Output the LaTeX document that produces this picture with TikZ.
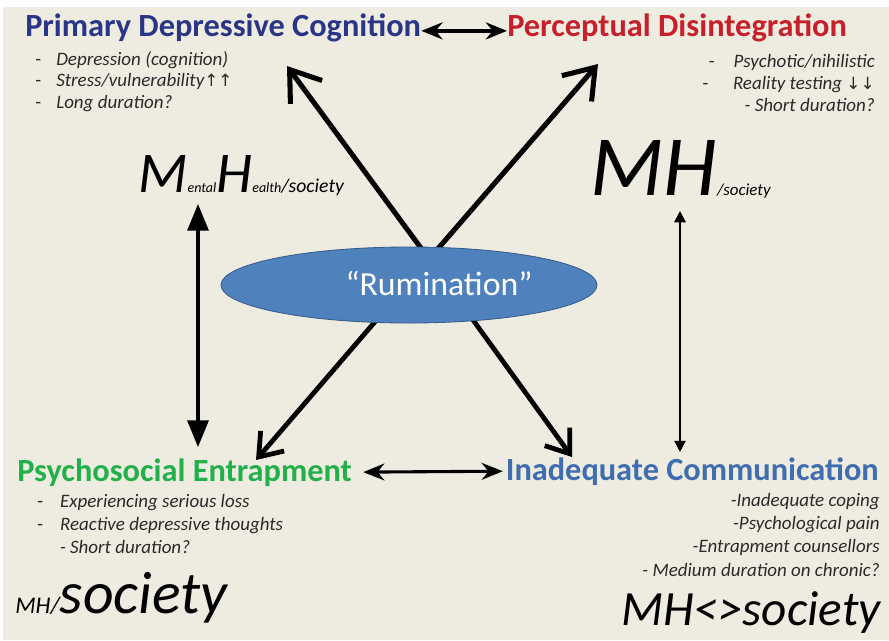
\documentclass[tikz,border=0pt]{standalone}
\usepackage{fontspec}
\setmainfont{Carlito}
\newfontfamily\arrowfont{DejaVu Sans}
\usetikzlibrary{arrows.meta,positioning,shapes.geometric}

\definecolor{paper}{HTML}{EEECE1}
\definecolor{pdcblue}{HTML}{2B3588}
\definecolor{pdred}{HTML}{C8202A}
\definecolor{pegreen}{HTML}{22B04B}
\definecolor{icblue}{HTML}{3F6DB0}
\definecolor{rumfill}{HTML}{4F81BD}
\definecolor{rumline}{HTML}{385D8A}
\definecolor{notegray}{HTML}{2A2A2A}

\begin{document}
\begin{tikzpicture}[x=0.025cm,y=-0.025cm,
  title/.style={font=\fontsize{23}{27}\selectfont\bfseries, inner sep=0pt},
  notes/.style={font=\fontsize{13.5}{15.5}\selectfont\itshape, text=notegray, inner sep=0pt},
  mhlabel/.style={font=\itshape, inner sep=0pt},
  bigarrow/.style={line width=3.6pt, -{Straight Barb[length=20pt,width=28pt]}},
  smallarrow/.style={line width=3.4pt, -{Straight Barb[length=15pt,width=22pt]}},
  pairarrow/.style={line width=2.8pt, {Stealth[length=15pt,width=12pt]}-{Stealth[length=15pt,width=12pt]}},
  sidearrow/.style={line width=2.2pt, {Triangle[length=19pt,width=15pt]}-{Triangle[length=19pt,width=15pt]}},
  thinarrow/.style={line width=1.4pt, {Triangle[length=8pt,width=8pt]}-{Triangle[length=8pt,width=8pt]}},
  rumination/.style={ellipse, fill=rumfill, draw=rumline, line width=0.6pt,
    minimum width=9.4cm, minimum height=1.9cm, inner sep=0pt}
]
\useasboundingbox (0,0) rectangle (889,640);
\fill[paper] (3,7) rectangle (889,640);

% the four corners
\node[title, text=pdcblue, anchor=base west] (pdc) at (25,36) {Primary Depressive Cognition};
\node[title, text=pdred, anchor=base west] (pd) at (507,36) {Perceptual Disintegration};
\node[title, text=pegreen, anchor=base west] (pe) at (17,481) {Psychosocial Entrapment};
\node[title, text=icblue, anchor=base east] (ic) at (879,480) {Inadequate Communication};

\node[notes, anchor=north west, align=left] (pdcnotes) at (35,51)
  {{\upshape -}\hspace{0.8em}Depression (cognition)\\
   {\upshape -}\hspace{0.8em}Stress/vulnerability{\arrowfont\fontsize{12}{12}\selectfont ↑↑}\\
   {\upshape -}\hspace{0.8em}Long duration?};
\node[notes, anchor=north east, align=right] (pdnotes) at (875,54)
  {{\upshape -}\hspace{1em}Psychotic/nihilistic\\
   {\upshape -}\hspace{1.3em}Reality testing {\arrowfont\fontsize{12}{12}\selectfont ↓↓}\\
   - Short duration?};
\node[notes, anchor=north west, align=left] (penotes) at (37,494)
  {{\upshape -}\hspace{0.9em}Experiencing serious loss\\[1pt]
   {\upshape -}\hspace{0.9em}Reactive depressive thoughts\\[1pt]
   \hspace{1.2em}- Short duration?};
\node[notes, anchor=north east, align=right] (icnotes) at (880,493)
  {-Inadequate coping\\[1pt]
   -Psychological pain\\[1pt]
   -Entrapment counsellors\\[1pt]
   - Medium duration on chronic?};

% mental health / society labels
\node[mhlabel, anchor=base west] (mhtl) at (138,192)
  {\fontsize{41}{41}\selectfont M\fontsize{10}{10}\selectfont ental\fontsize{41}{41}\selectfont H\fontsize{10}{10}\selectfont ealth\fontsize{14}{14}\selectfont/society};
\node[mhlabel, anchor=base west] (mhtr) at (590,195)
  {\fontsize{61}{61}\selectfont MH\fontsize{12}{12}\selectfont/society};
\node[mhlabel, anchor=base west] (mhbl) at (15,613)
  {\fontsize{17}{17}\selectfont MH/\fontsize{42.5}{42.5}\selectfont society};
\node[mhlabel, anchor=base east] (mhbr) at (881,625)
  {\fontsize{35}{35}\selectfont MH<>society};

% arrow ends
\coordinate (hub) at (429,259);
\coordinate (pdctip) at (287,66);
\coordinate (pdtip) at (598,64);
\coordinate (petip) at (256,460);
\coordinate (ictip) at (572,457);
\coordinate (mhtltip) at (198,204);
\coordinate (pebase) at (198,447);
\coordinate (mhtrtip) at (680,211);
\coordinate (icbase) at (680,452);

\draw[bigarrow] (hub) -- (pdctip);
\draw[bigarrow] (hub) -- (pdtip);
\draw[smallarrow] (hub) -- (petip);
\draw[smallarrow] (hub) -- (ictip);

\node[rumination] (rum) at (409,285) {};
\node[font=\fontsize{24}{28}\selectfont, text=white, anchor=base] (rumlabel) at (439,295) {“Rumination”};

\draw[pairarrow] ([yshift=-2.5pt]pdc.east) -- ([yshift=-2.5pt]pd.west);
\draw[pairarrow, line width=2.2pt, shorten <=8pt, shorten >=2pt] (pe.east) -- (ic.west);
\draw[sidearrow] (mhtltip) -- (pebase);
\draw[thinarrow] (mhtrtip) -- (icbase);
\end{tikzpicture}
\end{document}
